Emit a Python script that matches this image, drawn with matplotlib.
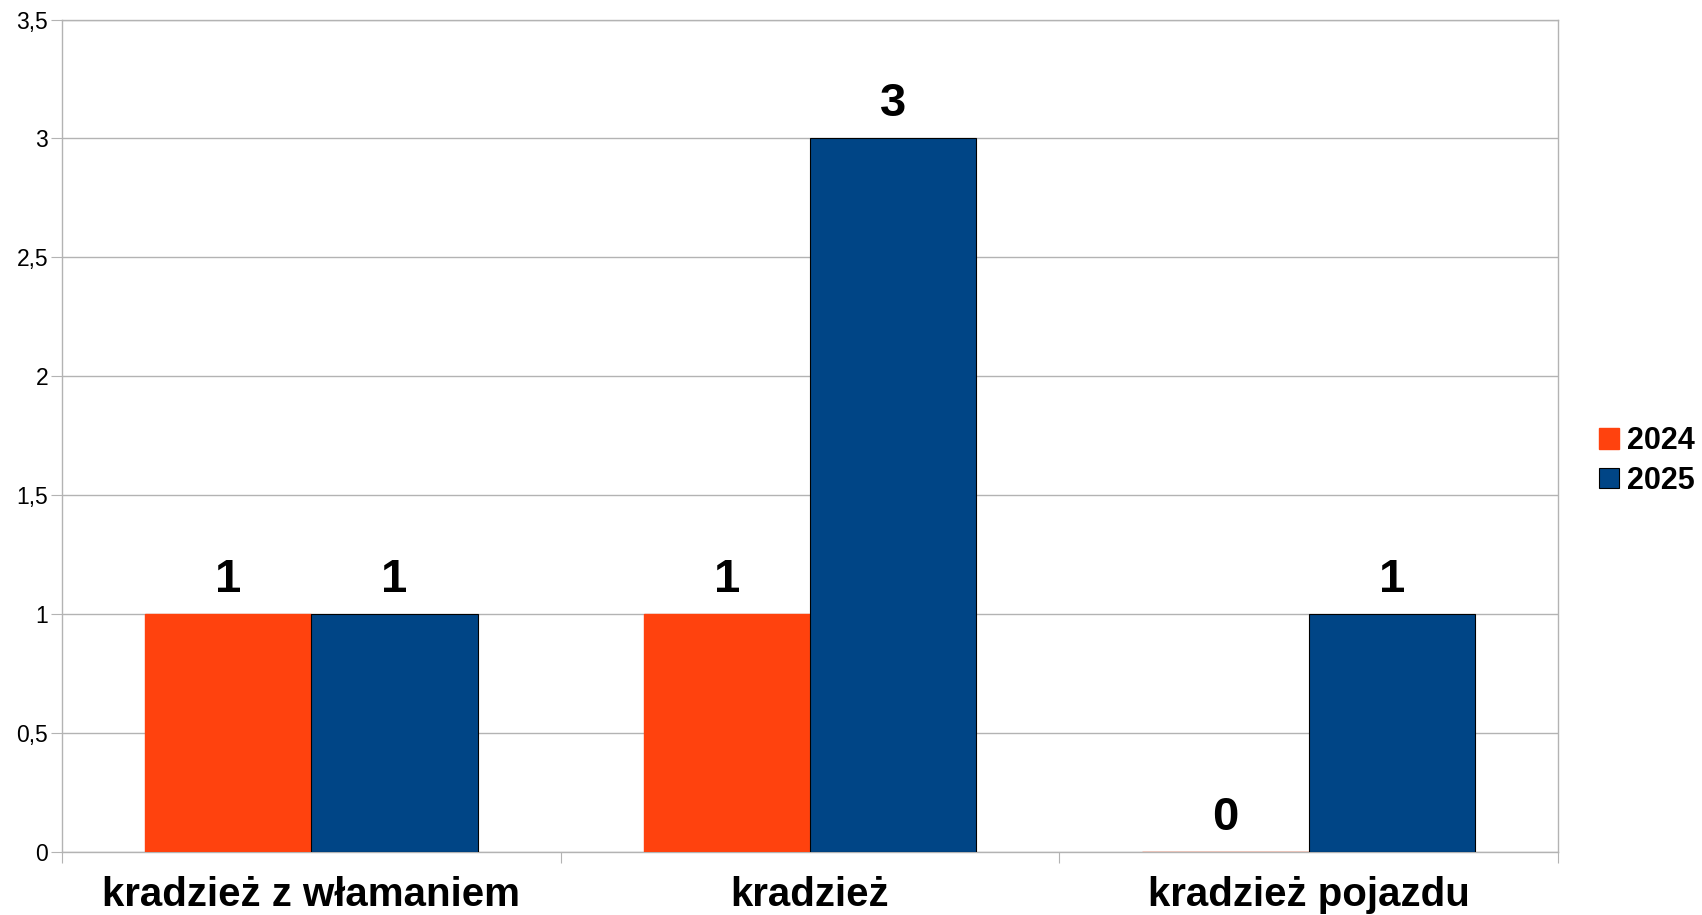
import matplotlib
matplotlib.use("Agg")
import matplotlib.pyplot as plt
import numpy as np

categories = ["kradzież z włamaniem", "kradzież", "kradzież pojazdu"]
series_names = ["2024", "2025"]
values_2024 = [1, 1, 0]
values_2025 = [1, 3, 1]
yticks = [0, 0.5, 1, 1.5, 2, 2.5, 3, 3.5]
ytick_labels = ["0", "0,5", "1", "1,5", "2", "2,5", "3", "3,5"]

plt.rcParams['font.family'] = ['Liberation Sans', 'DejaVu Sans']

fig = plt.figure(figsize=(17.02, 9.15), dpi=100)
ax = fig.add_axes([62/1702, 1 - 852/915, (1558-62)/1702, (852-19.5)/915])

x = np.arange(len(categories))
w = 1/3
orange = "#FF420E"
blue = "#004586"
b1 = ax.bar(x - w/2, values_2024, w, color=orange, edgecolor=orange, linewidth=1, label=series_names[0], zorder=3)
b2 = ax.bar(x + w/2, values_2025, w, color=blue, edgecolor="black", linewidth=0.8, label=series_names[1], zorder=3)

for bars in (b1, b2):
    for r in bars:
        ax.annotate(f"{int(r.get_height())}", (r.get_x() + r.get_width()/2, r.get_height()),
                    xytext=(0, 9), textcoords="offset points", ha="center", va="bottom",
                    fontsize=34, fontweight="bold", color="black")

ax.set_xlim(-0.5, 2.5)
ax.set_ylim(0, 3.5)
ax.set_yticks(yticks)
ax.set_yticklabels(ytick_labels, fontsize=16.5)
ax.set_xticks([-0.5, 0.5, 1.5, 2.5])
ax.set_xticklabels([])
ax.set_xticks(x, minor=True)
ax.set_xticklabels(categories, minor=True, fontsize=29, fontweight="bold")
ax.tick_params(axis="x", which="minor", length=0, pad=17)
ax.tick_params(axis="x", which="major", length=8, color="#b3b3b3")
ax.tick_params(axis="y", length=8, color="#b3b3b3", pad=2)
ax.yaxis.grid(True, color="#b3b3b3", linewidth=1, zorder=0)
ax.set_axisbelow(True)
for s in ax.spines.values():
    s.set_color("#b3b3b3")
    s.set_linewidth(1)

leg = fig.legend(handles=[b1, b2], labels=series_names, loc="center left",
                 bbox_to_anchor=(1599/1702, 1 - 461/915), frameon=False, borderaxespad=0,
                 prop={"size": 22, "weight": "bold"}, handlelength=0.65, handleheight=0.65,
                 handletextpad=0.25, labelspacing=0.3, borderpad=0)

fig.savefig("out.png", dpi=100)
